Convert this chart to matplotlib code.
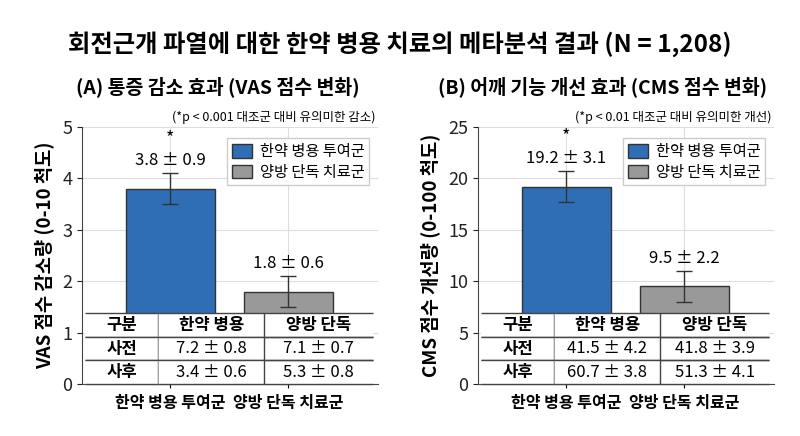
import matplotlib
matplotlib.use("Agg")
import matplotlib.pyplot as plt
from matplotlib.patches import Patch, Rectangle

plt.rcParams['font.family'] = ['Noto Sans CJK KR', 'DejaVu Sans']

# Data
groups = ["한약 병용 투여군", "양방 단독 치료군"]
legend_labels = ["한약 병용 투여군", "양방 단독 치료군"]

vas_mean = [3.8, 1.8]
vas_sd = [0.9, 0.6]
vas_err = [0.3, 0.3]

cms_mean = [19.2, 9.5]
cms_sd = [3.1, 2.2]
cms_err = [1.5, 1.5]

table_cols = ["구분", "한약 병용", "양방 단독"]
vas_table = [["사전", "7.2 ± 0.8", "7.1 ± 0.7"],
             ["사후", "3.4 ± 0.6", "5.3 ± 0.8"]]
cms_table = [["사전", "41.5 ± 4.2", "41.8 ± 3.9"],
             ["사후", "60.7 ± 3.8", "51.3 ± 4.1"]]

colors = ["#2f6db5", "#999999"]
edge = "#333333"

fig = plt.figure(figsize=(8, 4.36), dpi=100)
fig.patch.set_facecolor("white")
fig.text(0.5, 0.9, "회전근개 파열에 대한 한약 병용 치료의 메타분석 결과 (N = 1,208)",
         ha="center", va="center", fontsize=17.5, fontweight="bold")

ax1 = fig.add_axes([0.1025, 0.119, 0.37, 0.59])
ax2 = fig.add_axes([0.5975, 0.119, 0.37, 0.59])


def draw_panel(ax, means, sds, errs, ymax, step, title, note, ylabel, rows, star, title_x):
    x = [0, 1]
    ax.bar(x, means, width=0.76, color=colors, edgecolor=edge, linewidth=1, zorder=2)
    ax.errorbar(x, means, yerr=errs, fmt="none", ecolor="#333333",
                elinewidth=1, capsize=6, capthick=1, zorder=3)
    for i in x:
        top = means[i] + errs[i]
        ax.text(i, top + ymax * 0.015, f"{means[i]} ± {sds[i]}", ha="center",
                va="bottom", fontsize=12)
    ax.text(0, means[0] + errs[0] + ymax * 0.1, star, ha="center", va="bottom",
            fontsize=13)
    ax.set_xlim(-0.75, 1.76)
    ax.set_ylim(0, ymax)
    ax.set_yticks(range(0, ymax + 1, step))
    ax.set_xticks(x)
    ax.set_xticklabels(groups, fontsize=11.5, fontweight="bold")
    ax.tick_params(axis="y", labelsize=13, colors="#222222")
    ax.tick_params(axis="x", pad=5, length=3)
    ax.set_ylabel(ylabel, fontsize=13.5, fontweight="bold", labelpad=6)
    ax.grid(True, color="#dddddd", linewidth=0.8, zorder=0)
    ax.set_axisbelow(True)
    for s in ["top", "right"]:
        ax.spines[s].set_visible(False)
    ax.spines["left"].set_color("#444444")
    ax.spines["bottom"].set_color("#444444")
    ax.set_title(title, fontsize=14, fontweight="bold", pad=24, x=title_x)
    ax.text(0.99, 1.01, note, transform=ax.transAxes, ha="right", va="bottom",
            fontsize=9)
    handles = [Patch(facecolor=colors[0], edgecolor=edge),
               Patch(facecolor=colors[1], edgecolor=edge)]
    ax.legend(handles, legend_labels, loc="upper right", fontsize=11,
              bbox_to_anchor=(0.995, 0.985), handlelength=1.3, handleheight=1.0,
              handletextpad=0.5, labelspacing=0.25, borderpad=0.3,
              framealpha=1, edgecolor="#cccccc", fancybox=False)

    tb_box = [0.01, 0.0, 0.973, 0.276]
    ax.add_patch(Rectangle((tb_box[0], tb_box[1]), tb_box[2], tb_box[3],
                           transform=ax.transAxes, facecolor="white",
                           edgecolor="none", zorder=4))
    tb = ax.table(cellText=rows, colLabels=table_cols, cellLoc="center",
                  bbox=tb_box, colWidths=[0.25, 0.36, 0.37])
    tb.auto_set_font_size(False)
    tb.set_zorder(5)
    for (r, c), cell in tb.get_celld().items():
        cell.set_facecolor("white")
        cell.set_edgecolor("#444444")
        cell.set_linewidth(1)
        cell.visible_edges = "TBR" if c < 2 else "TB"
        cell.get_text().set_fontsize(12)
        if r == 0 or c == 0:
            cell.get_text().set_fontweight("bold")


draw_panel(ax1, vas_mean, vas_sd, vas_err, 5, 1,
           "(A) 통증 감소 효과 (VAS 점수 변화)",
           "(*p < 0.001 대조군 대비 유의미한 감소)",
           "VAS 점수 감소량 (0-10 척도)", vas_table, "*", 0.46)
draw_panel(ax2, cms_mean, cms_sd, cms_err, 25, 5,
           "(B) 어깨 기능 개선 효과 (CMS 점수 변화)",
           "(*p < 0.01 대조군 대비 유의미한 개선)",
           "CMS 점수 개선량 (0-100 척도)", cms_table, "*", 0.42)

fig.savefig("out.png", dpi=100)
